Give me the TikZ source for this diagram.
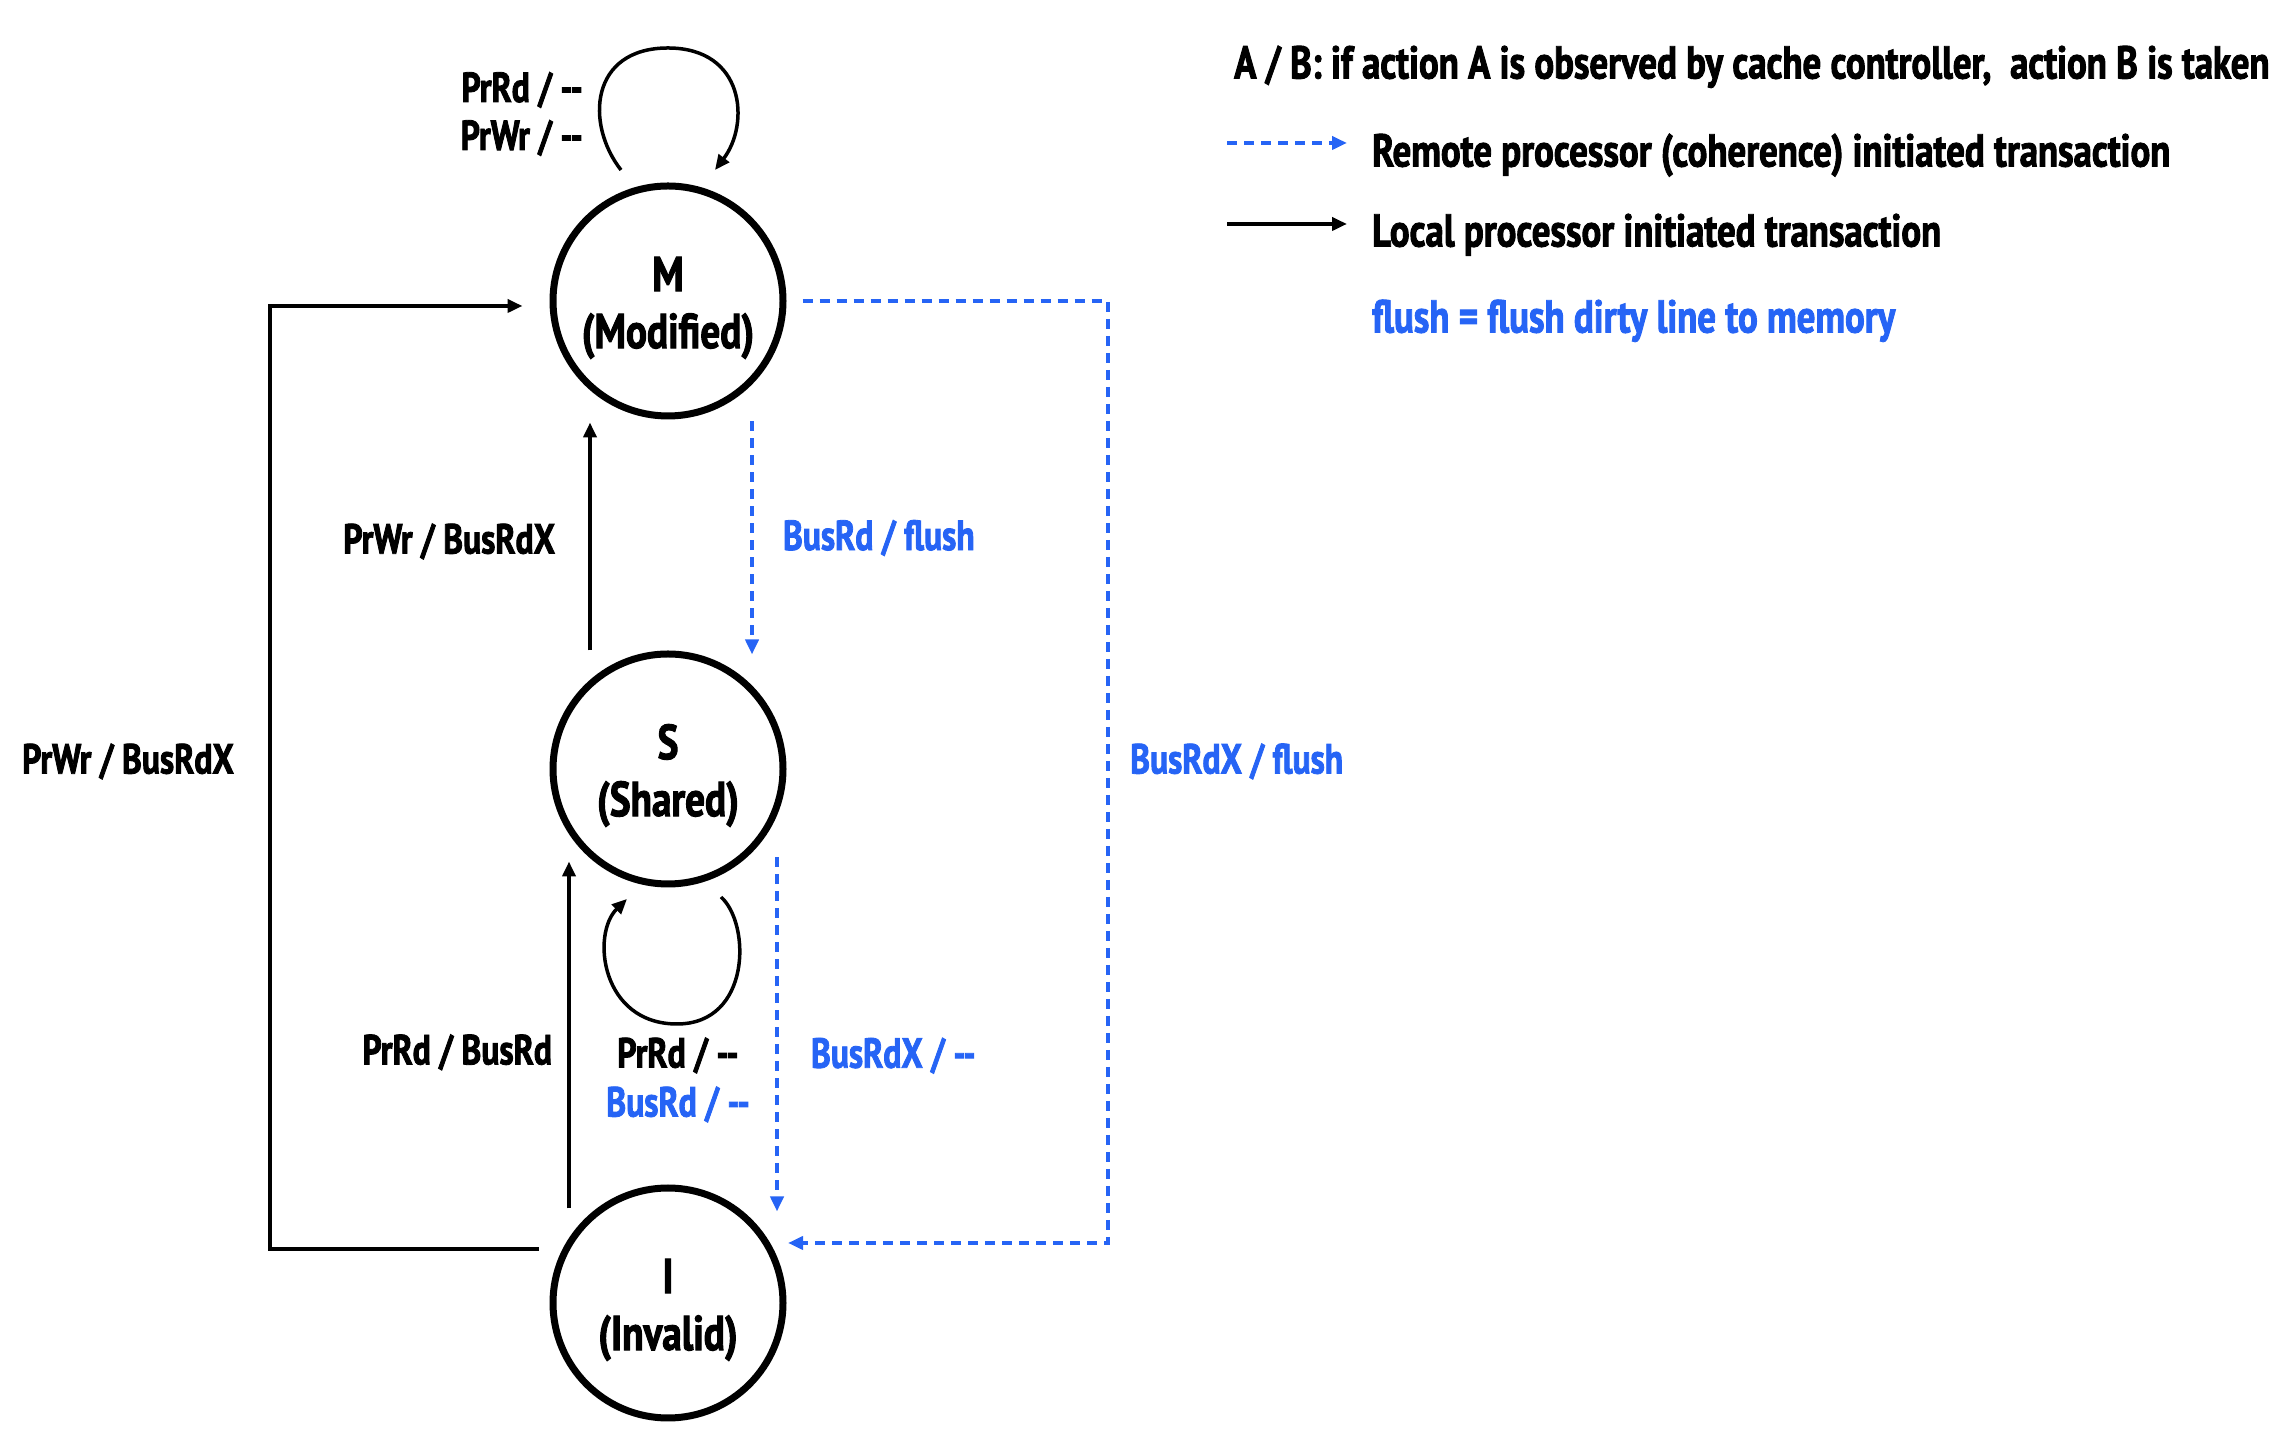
\documentclass[tikz,border=0pt]{standalone}
\usepackage{fontspec}
\setmainfont{PT Sans}[FakeStretch=0.8, BoldFeatures={FakeBold=2}]
\usetikzlibrary{arrows.meta, positioning, calc}
\definecolor{remoteblue}{RGB}{38,100,245}
\newcommand{\toppad}{\rule{0pt}{48pt}}

\begin{document}
\begin{tikzpicture}[
  x=1pt, y=1pt,
  state/.style={
    circle,
    draw,
    line width=7pt,
    minimum size=230pt,
    inner sep=0pt,
    align=center,
    font=\fontsize{49}{57}\selectfont\bfseries
  },
  arrow/.style={-{Triangle[length=15pt,width=13pt]}, line width=4pt},
  remote/.style={arrow, remoteblue, dash pattern=on 10pt off 7pt},
  lbl/.style={font=\fontsize{42}{48}\selectfont\bfseries, inner sep=0pt},
  keytext/.style={font=\fontsize{46}{52}\selectfont\bfseries, inner sep=0pt}
]
\useasboundingbox (0,0) rectangle (2296,1434);

% States (stacked top-down)
\node[state] (M) at (668,1133) {\toppad M\\(Modified)};
\node[state, below=231pt of M] (S) {\toppad S\\(Shared)};
\node[state, below=297pt of S] (I) {\toppad I\\(Invalid)};

% Self loops
\draw[arrow, line width=3.5pt] ($(M)+(-47,131)$) .. controls +(-36,46) and +(-78,0) .. ($(M)+(0,253)$)
  .. controls +(77,0) and +(35,46) .. ($(M)+(47,131)$);
\node[lbl, anchor=east, align=right] (mloop) at (583,1320) {PrRd / -{}-\\PrWr / -{}-};

\draw[arrow, line width=3.5pt] ($(S)+(53,-128)$) .. controls +(30,-27) and +(74,0) .. ($(S)+(9,-255)$)
  .. controls +(-76,0) and +(-36,-35) .. ($(S)+(-41,-130)$);
\node[lbl, anchor=mid] (sloop) at (678,369) {PrRd / -{}-};
\node[lbl, anchor=mid, remoteblue] (sloopbus) at (678,320) {BusRd / -{}-};

% Local transactions
\draw[arrow] ([xshift=-78pt]S.north) -- node[lbl, left=33pt, yshift=-5pt] {PrWr / BusRdX} ([xshift=-78pt,yshift=-3pt]M.south);
\draw[arrow] ([xshift=-99pt,yshift=-24pt]I.north) -- node[lbl, left=15pt, pos=0.45] {PrRd / BusRd} ([xshift=-99pt,yshift=26pt]S.south);
\draw[arrow] ($(I.center)+(-129,54)$) -- ++(-269,0) |- ($(M.west)+(-27,-5)$);
\node[lbl, anchor=mid east] (itom) at (234,663) {PrWr / BusRdX};

% Remote transactions
\draw[remote] ([xshift=84pt,yshift=-2pt]M.south) -- node[lbl, right=29pt] {BusRd / flush} ([xshift=84pt,yshift=-4pt]S.north);
\draw[remote] ([xshift=109pt,yshift=30pt]S.south) -- node[lbl, right=32pt, pos=0.56] {BusRdX / -{}-} ([xshift=109pt,yshift=-27pt]I.north);
\draw[remote] ($(M.east)+(16,0)$) -- ++(305,0) |- ($(I.center)+(120,60)$);
\node[lbl, anchor=mid west, remoteblue] (mtoi) at (1130,663) {BusRdX / flush};

% Legend
\node[keytext, anchor=mid west] (key) at (1234,1358) {A / B: if action A is observed by cache controller,\ \ action B is taken};
\coordinate (remoteA) at (1227,1291);
\coordinate (remoteB) at (1347,1291);
\draw[remote] (remoteA) -- (remoteB);
\node[keytext, anchor=mid west] (remotetxt) at (1372,1270) {Remote processor (coherence) initiated transaction};
\coordinate (localA) at (1227,1210);
\coordinate (localB) at (1347,1210);
\draw[arrow] (localA) -- (localB);
\node[keytext, anchor=mid west] (localtxt) at (1372,1190) {Local processor initiated transaction};
\node[keytext, anchor=mid west, remoteblue] (flushtxt) at (1372,1104) {flush = flush dirty line to memory};

\end{tikzpicture}
\end{document}
